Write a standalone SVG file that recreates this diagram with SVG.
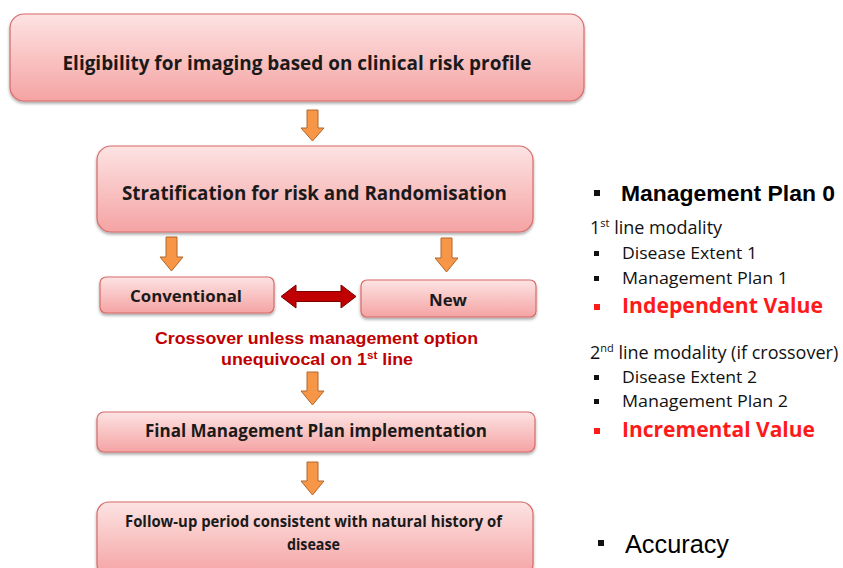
<svg xmlns="http://www.w3.org/2000/svg" width="843" height="568" viewBox="0 0 843 568">
<defs>
<linearGradient id="g" x1="0" y1="0" x2="0" y2="1">
<stop offset="0" stop-color="#fde3e3"/>
<stop offset="1" stop-color="#f5a3a3"/>
</linearGradient>
<filter id="sh" x="-5%" y="-10%" width="110%" height="130%">
<feDropShadow dx="0" dy="2" stdDeviation="1.8" flood-color="#000" flood-opacity="0.35"/>
</filter>
<style>
.box{fill:url(#g);stroke:#d86a6a;stroke-width:1.2;filter:url(#sh)}
.bt{font-family:"Open Sans","DejaVu Sans",sans-serif;font-weight:bold;fill:#1a1a1a;text-anchor:middle}
.oa{fill:#f79646;stroke:#b0672c;stroke-width:1}
.red{font-family:"Liberation Sans",Arial,sans-serif;font-weight:bold;fill:#c00000;text-anchor:middle;font-size:17px}
.rt{font-family:"Open Sans","DejaVu Sans",sans-serif;fill:#111;font-size:16px}
.rh{font-family:"Open Sans","DejaVu Sans",sans-serif;fill:#111;font-size:18px}
.rr{font-family:"Open Sans","DejaVu Sans",sans-serif;fill:#ff1a1a;font-weight:bold;font-size:21px}
.ar{font-family:"Liberation Sans",Arial,sans-serif;fill:#000}
.bk{fill:#111}
.bred{fill:#ff1a1a}
</style>
</defs>
<rect width="843" height="568" fill="#fff"/>

<g id="connectors">
<path class="oa" d="M307,110 H318 V128 H324 L312.5,141 L301,128 H307 Z"/>
<path class="oa" d="M166,237 H177 V257 H183 L171.5,271 L160,257 H166 Z"/>
<path class="oa" d="M441,238 H452 V258 H458 L446.5,272 L435,258 H441 Z"/>
<path class="oa" d="M307,372 H318 V391 H324 L312.5,405 L301,391 H307 Z"/>
<path class="oa" d="M307,462 H318 V481 H324 L312.5,495 L301,481 H307 Z"/>
<path d="M281,296.5 L296,285 V291.5 H341 V285 L356,296.5 L341,308 V301.5 H296 V308 Z" fill="#c00000" stroke="#7a0000" stroke-width="1"/>
</g>

<g id="n1">
<rect class="box" x="10" y="14" width="574" height="87" rx="14"/>
<text class="bt" x="297" y="70" font-size="20" textLength="469" lengthAdjust="spacingAndGlyphs">Eligibility for imaging based on clinical risk profile</text>
</g>
<g id="n2">
<rect class="box" x="97" y="146" width="436" height="86" rx="14"/>
<text class="bt" x="314.5" y="200" font-size="20" textLength="385" lengthAdjust="spacingAndGlyphs">Stratification for risk and Randomisation</text>
</g>
<g id="n3">
<rect class="box" x="100" y="277" width="174" height="36" rx="6"/>
<text class="bt" x="186" y="302" font-size="16.5" textLength="112" lengthAdjust="spacingAndGlyphs">Conventional</text>
</g>
<g id="n4">
<rect class="box" x="361" y="280" width="175" height="37" rx="6"/>
<text class="bt" x="448" y="306" font-size="16.5" textLength="38" lengthAdjust="spacingAndGlyphs">New</text>
</g>
<g id="crossover">
<text class="red" x="316.5" y="344" textLength="323" lengthAdjust="spacingAndGlyphs">Crossover unless management option</text>
<text class="red" x="317" y="365" textLength="192" lengthAdjust="spacingAndGlyphs">unequivocal on 1<tspan font-size="11" dy="-6">st</tspan><tspan dy="6"> line</tspan></text>
</g>
<g id="n5">
<rect class="box" x="97" y="412" width="438" height="40" rx="7"/>
<text class="bt" x="316" y="437" font-size="17" textLength="342" lengthAdjust="spacingAndGlyphs">Final Management Plan implementation</text>
</g>
<g id="n6">
<rect class="box" x="97" y="502" width="436" height="74" rx="12"/>
<text class="bt" x="313.5" y="527" font-size="15.5" textLength="377" lengthAdjust="spacingAndGlyphs">Follow-up period consistent with natural history of</text>
<text class="bt" x="313.5" y="550" font-size="15.5" textLength="53" lengthAdjust="spacingAndGlyphs">disease</text>
</g>

<g id="panel">
<rect class="bk" x="594" y="190" width="6" height="6"/>
<text class="ar" x="621" y="201" font-size="22" font-weight="bold" textLength="214" lengthAdjust="spacingAndGlyphs">Management Plan 0</text>

<text class="rh" x="590" y="234">1<tspan font-size="11" dy="-7">st</tspan><tspan dy="7"> line modality</tspan></text>
<rect class="bk" x="594" y="251" width="5" height="5"/>
<text class="rt" x="622" y="259" textLength="135" lengthAdjust="spacingAndGlyphs">Disease Extent 1</text>
<rect class="bk" x="594" y="276" width="5" height="5"/>
<text class="rt" x="622" y="284" textLength="166" lengthAdjust="spacingAndGlyphs">Management Plan 1</text>
<rect class="bred" x="594" y="304" width="6" height="6"/>
<text class="rr" x="622" y="313" textLength="201" lengthAdjust="spacingAndGlyphs">Independent Value</text>

<text class="rh" x="590" y="359">2<tspan font-size="11" dy="-7">nd</tspan><tspan dy="7"> line modality (if crossover)</tspan></text>
<rect class="bk" x="594" y="375" width="5" height="5"/>
<text class="rt" x="622" y="383" textLength="135" lengthAdjust="spacingAndGlyphs">Disease Extent 2</text>
<rect class="bk" x="594" y="399" width="5" height="5"/>
<text class="rt" x="622" y="407" textLength="166" lengthAdjust="spacingAndGlyphs">Management Plan 2</text>
<rect class="bred" x="594" y="428" width="6" height="6"/>
<text class="rr" x="622" y="437" textLength="193" lengthAdjust="spacingAndGlyphs">Incremental Value</text>

<rect class="bk" x="598" y="540" width="6" height="6"/>
<text class="ar" x="625" y="553" font-size="25" textLength="104" lengthAdjust="spacingAndGlyphs">Accuracy</text>
</g>
</svg>
